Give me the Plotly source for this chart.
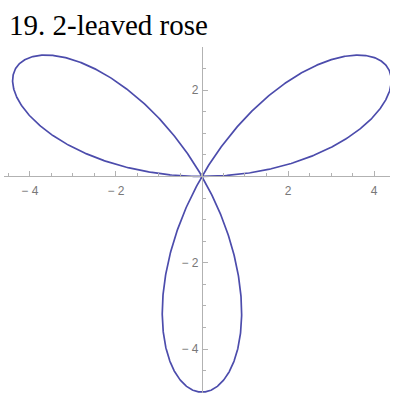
import numpy as np
import plotly.graph_objects as go

# Rose curve r = amplitude * sin(petals * theta)
title_text = "19. 2-leaved rose"
amplitude = 5.0
petals = 3

x_tick_vals = [-4, -2, 2, 4]
x_tick_text = ["\u2212 4", "\u2212 2", "2", "4"]
y_tick_vals = [-4, -2, 2]
y_tick_text = ["\u2212 4", "\u2212 2", "2"]

x_range = [-4.6, 4.37]
y_range = [-5.02, 3.0]

theta = np.linspace(0, np.pi, 1201)
r = amplitude * np.sin(petals * theta)
x = r * np.cos(theta)
y = r * np.sin(theta)

line_color = "rgb(76,76,172)"
axis_color = "rgb(178,178,178)"
label_color = "rgb(120,120,120)"

fig = go.Figure()
fig.add_trace(go.Scatter(
    x=x, y=y, mode="lines",
    line=dict(color=line_color, width=1.7),
    hoverinfo="skip", showlegend=False,
))

common_axis = dict(
    showline=True, linecolor=axis_color, linewidth=1,
    showgrid=False, zeroline=False,
    tickmode="array", ticks="inside", ticklen=5, tickwidth=1, tickcolor=axis_color,
    tickfont=dict(family="Liberation Sans, Arial, sans-serif", size=12, color=label_color),
    minor=dict(ticks="inside", ticklen=3, tickwidth=1, tickcolor=axis_color,
               tickmode="linear", tick0=0, dtick=0.5, showgrid=False),
    fixedrange=True,
)

fig.update_layout(
    width=394, height=393,
    margin=dict(l=4, r=4, t=47, b=0),
    paper_bgcolor="white", plot_bgcolor="white",
    xaxis=dict(common_axis, range=x_range, tickvals=x_tick_vals, ticktext=x_tick_text,
               anchor="free", side="bottom", ticklabelstandoff=3,
               position=(0 - y_range[0]) / (y_range[1] - y_range[0])),
    yaxis=dict(common_axis, range=y_range, tickvals=y_tick_vals, ticktext=y_tick_text,
               anchor="free", side="left", ticklabelstandoff=1,
               position=(0 - x_range[0]) / (x_range[1] - x_range[0])),
    annotations=[dict(
        text=title_text, xref="paper", yref="paper",
        x=0.0, y=1.0, xanchor="left", yanchor="bottom", xshift=3, yshift=4,
        showarrow=False,
        font=dict(family="Liberation Serif, Times New Roman, serif", size=29, color="black"),
    )],
)

fig.write_html("out.html")
